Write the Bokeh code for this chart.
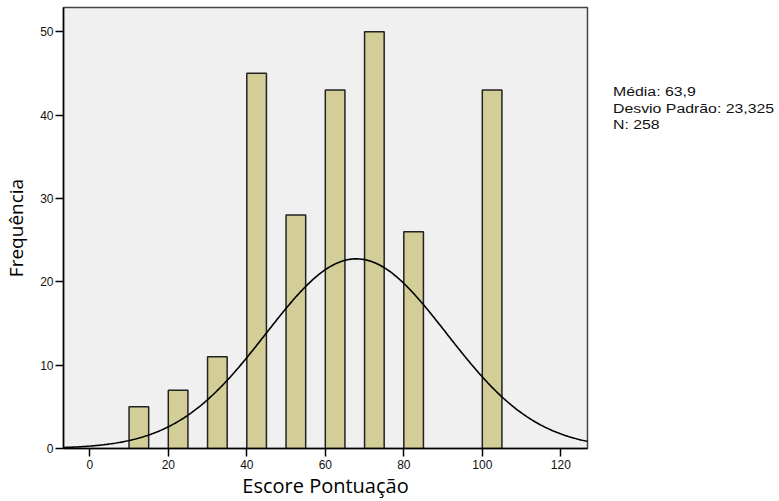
import numpy as np
from bokeh.plotting import figure
from bokeh.models import ColumnDataSource, Range1d, FixedTicker, Div
from bokeh.layouts import row
from bokeh.embed import file_html
from bokeh.resources import INLINE

# Data
bin_starts = [10, 20, 30, 40, 50, 60, 70, 80, 100]
counts = [5, 7, 11, 45, 28, 43, 50, 26, 43]
bin_width = 5

# Fitted normal curve parameters (as drawn)
curve_center = 67.9
curve_sd = 23.0
curve_peak = 22.75

stats_lines = ["Média: 63,9", "Desvio Padrão: 23,325", "N: 258"]

x_ticks = [0, 20, 40, 60, 80, 100, 120]
y_ticks = [0, 10, 20, 30, 40, 50]

p = figure(width=600, height=501, output_backend="svg", toolbar_location=None,
           x_range=Range1d(-6.7, 126.8), y_range=Range1d(0, 52.9),
           min_border_left=61, min_border_right=13, min_border_top=7, min_border_bottom=51)

p.border_fill_color = "white"
p.background_fill_color = "#f0f0f0"
p.outline_line_color = "#444444"
p.outline_line_width = 1.5
p.xgrid.visible = False
p.ygrid.visible = False

src = ColumnDataSource(dict(left=bin_starts, right=[b + bin_width for b in bin_starts],
                            top=counts, bottom=[0] * len(counts)))
p.quad(left="left", right="right", top="top", bottom="bottom", source=src,
       fill_color="#d3ce97", line_color="#222222", line_width=1.5)

xs = np.linspace(-6.7, 126.8, 400)
ys = curve_peak * np.exp(-0.5 * ((xs - curve_center) / curve_sd) ** 2)
p.line(xs, ys, line_color="black", line_width=1.6)

for ax in (p.xaxis[0], p.yaxis[0]):
    ax.axis_line_color = "black"
    ax.axis_line_width = 1.5
    ax.major_tick_line_color = "black"
    ax.major_tick_line_width = 1.5
    ax.major_tick_out = 8
    ax.major_tick_in = 0
    ax.minor_tick_line_color = None
    ax.major_label_text_font = "Liberation Sans"
    ax.major_label_text_font_size = "12px"
    ax.major_label_text_color = "#111111"
    ax.axis_label_text_font = "Open Sans"
    ax.axis_label_text_font_style = "normal"
    ax.axis_label_text_color = "black"

p.xaxis.axis_label_text_font_size = "20px"
p.yaxis.axis_label_text_font_size = "19px"
p.xaxis.ticker = FixedTicker(ticks=x_ticks)
p.yaxis.ticker = FixedTicker(ticks=y_ticks)
p.xaxis.axis_label = "Escore Pontuação"
p.yaxis.axis_label = "Frequência"
p.xaxis.major_label_standoff = 3
p.yaxis.major_label_standoff = 2
p.xaxis.axis_label_standoff = 0
p.yaxis.axis_label_standoff = 8

stats_html = "<br>".join(stats_lines)
div = Div(text=stats_html, width=179, height=200,
          styles={"font-family": "'Liberation Sans', Arial, sans-serif", "font-size": "12px",
                  "line-height": "16.5px", "color": "#111111", "margin-top": "84px",
                  "margin-left": "13px", "transform": "scaleX(1.32)",
                  "transform-origin": "left top", "white-space": "nowrap"})

layout = row(p, div)
open("out.html", "w").write(file_html(layout, INLINE))
